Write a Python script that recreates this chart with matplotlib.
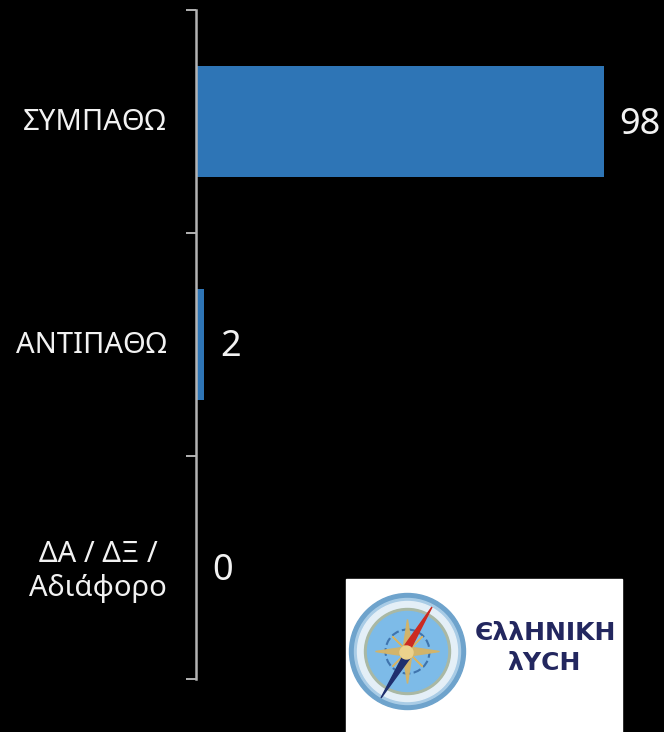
import matplotlib
matplotlib.use("Agg")
import matplotlib.pyplot as plt
from matplotlib.patches import Circle, Polygon

categories = ["ΣΥΜΠΑΘΩ", "ΑΝΤΙΠΑΘΩ", "ΔΑ / ΔΞ /\nΑδιάφορο"]
values = [98, 2, 0]
logo_lines = ["ЄλλΗΝΙΚΗ", "λΥСΗ"]

W, H = 664, 732
FONT = ["Noto Sans", "DejaVu Sans"]
fig = plt.figure(figsize=(W / 100, H / 100), dpi=100, facecolor="black")

# main chart
ax = fig.add_axes([196 / W, 1 - 679 / H, 407.5 / W, (679 - 10) / H], facecolor="black")
y = list(range(len(categories)))
ax.barh(y, values, height=0.5, color="#2e75b6", zorder=2)
ax.set_xlim(0, 98)
ax.set_ylim(2.5, -0.5)
ax.set_yticks([-0.5, 0.5, 1.5, 2.5])
ax.set_yticklabels([])
ax.tick_params(axis="y", length=7.2, width=1.4, color="#b3b3b3", direction="out")
ax.set_xticks([])
for s in ("top", "right", "bottom"):
    ax.spines[s].set_visible(False)
ax.spines["left"].set_color("#b3b3b3")
ax.spines["left"].set_linewidth(1.8)
ax.patch.set_alpha(0)

for i, (c, v) in enumerate(zip(categories, values)):
    ax.annotate(c, (0, i), xytext=(-29, -4 if "\n" in c else -1), textcoords="offset pixels",
                ha="right", va="center", color="#f2f2f2", fontsize=21, family=FONT,
                linespacing=1.25, multialignment="center", annotation_clip=False)
    ax.annotate(str(v), (v, i), xytext=(16, -3), textcoords="offset pixels", ha="left", va="center",
                color="#f2f2f2", fontsize=26, family=FONT, annotation_clip=False)

# logo, drawn in pixel coordinates
lg = fig.add_axes([0, 0, 1, 1], facecolor="none")
lg.set_xlim(0, W)
lg.set_ylim(H, 0)
lg.axis("off")
lg.add_patch(plt.Rectangle((346, 579), 276, 153, color="white", zorder=1))
cx, cy = 407.5, 651.5
for r, col in [(58, "#6ea3cc"), (53, "#a9cce6"), (50, "#e4eff7"), (43, "#a9b8a4"), (40, "#7dbbe8")]:
    lg.add_patch(Circle((cx, cy), r, color=col, zorder=2))
lg.add_patch(Circle((cx, cy), 22, fill=False, ec="#3f74ad", lw=1.5, ls="--", zorder=3))
star = "#d2b46a"
for dx, dy in [(32, 0), (-32, 0), (0, 32), (0, -32), (15, 15), (-15, 15), (15, -15), (-15, -15)]:
    lg.add_patch(Polygon([(cx + dx, cy + dy), (cx + dy * 0.15, cy + dx * 0.15), (cx - dy * 0.15, cy - dx * 0.15)],
                         color=star, zorder=4))
lg.add_patch(Polygon([(432, 607), (405, 645), (410, 650)], color="#cc2a20", zorder=5))
lg.add_patch(Polygon([(381, 698), (404, 654), (410, 658)], color="#1f2f6e", zorder=5))
lg.add_patch(Circle((cx - 1, cy + 1), 6.5, color="#ecd28c", zorder=6))
lg.text(545, 633, logo_lines[0], ha="center", va="center", color="#23275f", fontsize=18,
        family="DejaVu Sans", fontweight="bold", zorder=7)
lg.text(543.5, 663, logo_lines[1], ha="center", va="center", color="#23275f", fontsize=18,
        family="DejaVu Sans", fontweight="bold", zorder=7)

fig.savefig("out.png", dpi=100, facecolor="black")
